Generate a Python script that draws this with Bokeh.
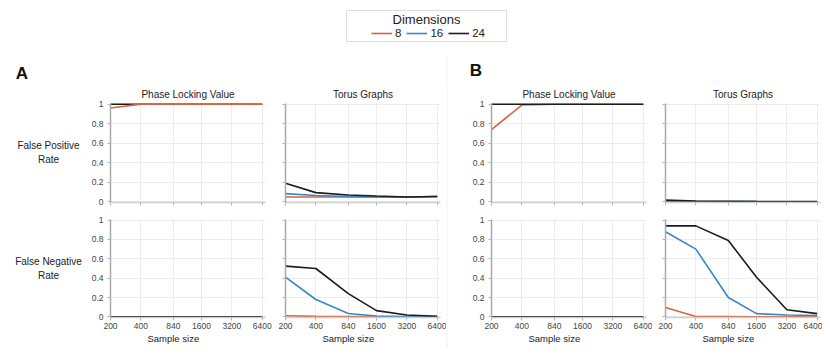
import math
from bokeh.plotting import figure
from bokeh.layouts import row, column
from bokeh.models import (Range1d, FixedTicker, NumeralTickFormatter, Label, Legend,
                          LegendItem, BoxAnnotation, Span)
from bokeh.embed import file_html
from bokeh.resources import INLINE

# ---------------- data ----------------
sample_sizes = [200, 400, 840, 1600, 3200, 6400]
dimensions = ["8", "16", "24"]
y_ticks = [0, 0.2, 0.4, 0.6, 0.8, 1]
col_titles = ["Phase Locking Value", "Torus Graphs"]
row_labels = ["False Positive\nRate", "False Negative\nRate"]
x_title = "Sample size"

# Panel A
a_plv_fpr_8 = [0.96, 1, 1, 1, 1, 1]
a_plv_fpr_16 = [1, 1, 1, 1, 1, 1]
a_plv_fpr_24 = [1, 1, 1, 1, 1, 1]
a_tg_fpr_8 = [0.05, 0.05, 0.05, 0.05, 0.05, 0.055]
a_tg_fpr_16 = [0.085, 0.065, 0.055, 0.05, 0.05, 0.055]
a_tg_fpr_24 = [0.19, 0.095, 0.07, 0.06, 0.05, 0.055]
a_plv_fnr_8 = [0, 0, 0, 0, 0, 0]
a_plv_fnr_16 = [0, 0, 0, 0, 0, 0]
a_plv_fnr_24 = [0, 0, 0, 0, 0, 0]
a_tg_fnr_8 = [0.012, 0.006, 0.005, 0.003, 0.002, 0.002]
a_tg_fnr_16 = [0.41, 0.18, 0.035, 0.01, 0.005, 0.003]
a_tg_fnr_24 = [0.525, 0.50, 0.24, 0.065, 0.02, 0.006]

# Panel B
b_plv_fpr_8 = [0.74, 0.99, 1, 1, 1, 1]
b_plv_fpr_16 = [1, 1, 1, 1, 1, 1]
b_plv_fpr_24 = [1, 1, 1, 1, 1, 1]
b_tg_fpr_8 = [0, 0, 0, 0, 0, 0]
b_tg_fpr_16 = [0.008, 0.004, 0.003, 0.002, 0.002, 0.002]
b_tg_fpr_24 = [0.018, 0.01, 0.007, 0.005, 0.004, 0.003]
b_plv_fnr_8 = [0, 0, 0, 0, 0, 0]
b_plv_fnr_16 = [0, 0, 0, 0, 0, 0]
b_plv_fnr_24 = [0, 0, 0, 0, 0, 0]
b_tg_fnr_8 = [0.098, 0.005, 0.003, 0.002, 0.002, 0.002]
b_tg_fnr_16 = [0.88, 0.70, 0.20, 0.034, 0.02, 0.015]
b_tg_fnr_24 = [0.94, 0.94, 0.79, 0.41, 0.074, 0.034]

# ---------------- style ----------------
FONT = "Liberation Sans"
COLORS = {"8": "#d9653c", "16": "#3b86c8", "24": "#1c1c1c"}
GRID = "#ececec"
TOP_H, BOT_H = 127, 123
FRAME_W = 155
X_START, X_END = 200, 6900


def hide_labels(ax):
    ax.major_label_text_color = None
    ax.major_label_text_font_size = "1px"
    ax.major_label_standoff = 0


def panel(series, top, labels, width, left, right, title=None, order=("8", "16", "24")):
    p = figure(width=width, height=TOP_H if top else BOT_H, x_axis_type="log",
               x_range=Range1d(X_START, X_END), y_range=Range1d(-0.006, 1.006),
               output_backend="svg", toolbar_location=None, title=title,
               min_border_left=left, min_border_right=right,
               min_border_top=20 if top else 9, min_border_bottom=8 if top else 16)
    p.outline_line_color = None
    if title:
        p.title.text_font = FONT
        p.title.text_font_size = "10px"
        p.title.text_font_style = "normal"
        p.title.text_color = "#222222"
        p.title.align = "center"
        p.title.standoff = 7
        p.title.offset = 5
    for key in order:
        p.line(sample_sizes, series[key], line_color=COLORS[key], line_width=1.6)

    ticker = FixedTicker(ticks=sample_sizes, minor_ticks=[])
    p.xaxis.ticker = ticker
    p.xgrid.ticker = ticker
    p.xaxis.formatter = NumeralTickFormatter(format="0")
    yt = FixedTicker(ticks=y_ticks, minor_ticks=[])
    p.yaxis.ticker = yt
    p.ygrid.ticker = yt
    p.yaxis.formatter = NumeralTickFormatter(format="0.[0]")
    p.grid.grid_line_color = GRID
    p.grid.grid_line_width = 1

    for ax in (p.xaxis, p.yaxis):
        ax.major_tick_out = 3
        ax.major_tick_in = 0
        ax.major_tick_line_color = "#b5b5b5"
        ax.minor_tick_line_color = None
        ax.major_label_text_font = FONT
        ax.major_label_text_font_size = "8.5px"
        ax.major_label_text_color = "#444444"
    p.xaxis.axis_line_color = "#cfcfcf"
    p.xaxis.axis_line_width = 1.5
    p.yaxis.axis_line_color = "#a8a8a8"
    p.yaxis.axis_line_width = 1.5
    p.xaxis.major_label_standoff = 2
    p.yaxis.major_label_standoff = 4

    if top:
        hide_labels(p.xaxis)
    if not labels:
        hide_labels(p.yaxis)
    return p


def s(a, b, c):
    return {"8": a, "16": b, "24": c}


# column geometry: (figure width, left border, right border)
cols = [(187, 25, 7), (174, 13, 6), (186, 25, 6), (170, 13, 2)]
LEFT_W, DIV_W = 85, 20

# Group A
a_plv_top = panel(s(a_plv_fpr_8, a_plv_fpr_16, a_plv_fpr_24), True, True, *cols[0],
                  title=col_titles[0], order=("16", "24", "8"))
a_plv_bot = panel(s(a_plv_fnr_8, a_plv_fnr_16, a_plv_fnr_24), False, True, *cols[0])
a_tg_top = panel(s(a_tg_fpr_8, a_tg_fpr_16, a_tg_fpr_24), True, False, *cols[1],
                 title=col_titles[1])
a_tg_bot = panel(s(a_tg_fnr_8, a_tg_fnr_16, a_tg_fnr_24), False, False, *cols[1])

# Group B
b_plv_top = panel(s(b_plv_fpr_8, b_plv_fpr_16, b_plv_fpr_24), True, True, *cols[2],
                  title=col_titles[0])
b_plv_bot = panel(s(b_plv_fnr_8, b_plv_fnr_16, b_plv_fnr_24), False, True, *cols[2])
b_tg_top = panel(s(b_tg_fpr_8, b_tg_fpr_16, b_tg_fpr_24), True, False, *cols[3],
                 title=col_titles[1])
b_tg_bot = panel(s(b_tg_fnr_8, b_tg_fnr_16, b_tg_fnr_24), False, False, *cols[3])


def blank(w, h):
    p = figure(width=w, height=h, x_range=Range1d(0, w), y_range=Range1d(0, h),
               output_backend="svg", toolbar_location=None, min_border=0,
               x_axis_location=None, y_axis_location=None)
    p.grid.visible = False
    p.outline_line_color = None
    return p


W = LEFT_W + DIV_W + sum(c[0] for c in cols)
HEAD_H = 83
head = blank(W, HEAD_H)
head.add_layout(BoxAnnotation(left=346, right=506, bottom=42, top=73,
                              fill_alpha=0, line_color="#8a8a8a", line_width=1))
head.add_layout(Label(x=426, y=64, text="Dimensions", text_align="center",
                      text_baseline="middle", text_font=FONT, text_font_size="13px",
                      text_color="#222222"))
# legend proxies: real series, drawn on a range that keeps them off the canvas
head.extra_y_ranges = {"proxy": Range1d(100, 200)}
proxy_series = s(a_tg_fnr_8, a_tg_fnr_16, a_tg_fnr_24)
items = []
for key in dimensions:
    r = head.line(sample_sizes, proxy_series[key], line_color=COLORS[key], line_width=1.6,
                  y_range_name="proxy")
    items.append(LegendItem(label=key, renderers=[r]))
leg = Legend(items=items, orientation="horizontal", location=(371, 44),
             border_line_color=None, background_fill_alpha=0, padding=0, margin=0,
             spacing=5, glyph_width=21, glyph_height=12, label_standoff=3,
             label_width=0, label_height=12, label_text_font=FONT,
             label_text_font_size="11.5px", label_text_color="#222222")
head.add_layout(leg)
for txt, x, y in (("A", 21.5, 10), ("B", 475.5, 13)):
    head.add_layout(Label(x=x, y=y, text=txt, text_align="center", text_baseline="middle",
                          text_font=FONT, text_font_size="17px", text_font_style="bold",
                          text_color="#111111"))
head.add_layout(BoxAnnotation(left=446, right=447, bottom=0, top=28,
                              fill_color="#efefef", fill_alpha=1, line_color=None))

# Row labels (body spans page y 83..333; data y = 333 - page y)
BODY_H = TOP_H + BOT_H
lab = blank(LEFT_W, BODY_H)
for txt, y in ((row_labels[0], 181), (row_labels[1], 65)):
    lab.add_layout(Label(x=48, y=y, text=txt, text_align="center", text_baseline="middle",
                         text_font=FONT, text_font_size="10px", text_color="#222222"))

# Divider
div = blank(DIV_W, BODY_H)
div.add_layout(Span(location=0.5, dimension="height", line_color="#efefef", line_width=1))

# Strip with the x titles, each centred under the 840 tick of its panel
STRIP_H = 16
strip = blank(W, STRIP_H)
frac = math.log(sample_sizes[2] / X_START) / math.log(X_END / X_START)
x0 = LEFT_W
for i, (w, lb, rb) in enumerate(cols):
    strip.add_layout(Label(x=x0 + lb + frac * FRAME_W, y=11, text=x_title,
                           text_align="center", text_baseline="middle", text_font=FONT,
                           text_font_size="9.5px", text_color="#222222"))
    x0 += w + (DIV_W if i == 1 else 0)
strip.add_layout(BoxAnnotation(left=446, right=447, bottom=0, top=STRIP_H,
                               fill_color="#efefef", fill_alpha=1, line_color=None))

body = row(lab,
           column(a_plv_top, a_plv_bot),
           column(a_tg_top, a_tg_bot),
           div,
           column(b_plv_top, b_plv_bot),
           column(b_tg_top, b_tg_bot))
page = column(head, body, strip)

open("out.html", "w").write(file_html(page, INLINE))
